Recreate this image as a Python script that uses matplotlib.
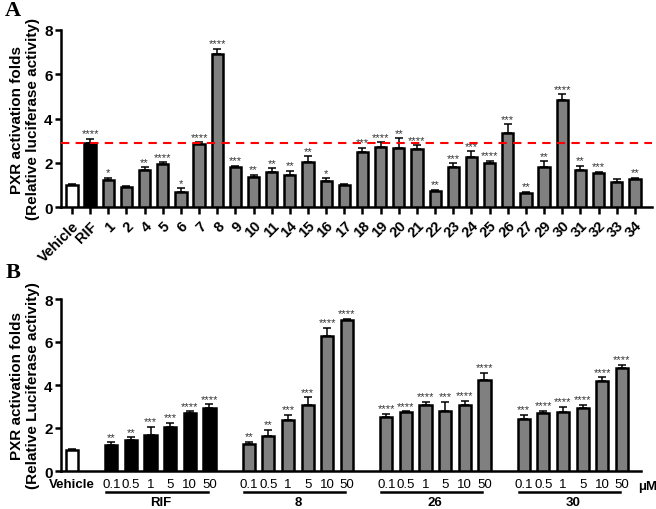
import matplotlib
matplotlib.use("Agg")
import matplotlib.pyplot as plt
import matplotlib.transforms as mtransforms
import numpy as np

plt.rcParams['font.family'] = ['Liberation Sans', 'DejaVu Sans']

# ---------------- Panel A data ----------------
a_labels = ["Vehicle", "RIF", "1", "2", "4", "5", "6", "7", "8", "9", "10", "11", "14", "15", "16",
            "17", "18", "19", "20", "21", "22", "23", "24", "25", "26", "27", "29", "30", "31", "32", "33", "34"]
a_values = [0.98, 2.89, 1.20, 0.92, 1.67, 1.93, 0.68, 2.85, 6.93, 1.79, 1.37, 1.60, 1.46, 2.02, 1.19,
            0.98, 2.47, 2.71, 2.68, 2.64, 0.71, 1.79, 2.26, 1.99, 3.36, 0.62, 1.82, 4.85, 1.67, 1.55, 1.11, 1.28]
a_errors = [0.08, 0.20, 0.10, 0.05, 0.12, 0.09, 0.16, 0.07, 0.22, 0.07, 0.09, 0.15, 0.16, 0.27, 0.10,
            0.07, 0.20, 0.21, 0.42, 0.15, 0.08, 0.18, 0.26, 0.09, 0.38, 0.07, 0.24, 0.24, 0.18, 0.05, 0.15, 0.05]
a_stars = ["", "****", "*", "", "**", "****", "*", "****", "****", "***", "**", "**", "**", "**", "*",
           "", "***", "****", "**", "****", "**", "***", "***", "****", "***", "**", "**", "****", "**", "***", "", "**"]
a_threshold = 2.9

# ---------------- Panel B data ----------------
b_doses = ["0.1", "0.5", "1", "5", "10", "50"]
b_groups = ["RIF", "8", "26", "30"]
b_vehicle = 0.97
b_vehicle_err = 0.05
b_values = {
    "RIF": [1.23, 1.43, 1.69, 2.05, 2.69, 2.95],
    "8":   [1.26, 1.63, 2.38, 3.05, 6.26, 7.03],
    "26":  [2.52, 2.74, 3.08, 2.80, 3.09, 4.23],
    "30":  [2.42, 2.69, 2.75, 2.92, 4.18, 4.77],
}
b_errors = {
    "RIF": [0.10, 0.14, 0.35, 0.20, 0.08, 0.15],
    "8":   [0.09, 0.28, 0.23, 0.38, 0.40, 0.06],
    "26":  [0.15, 0.03, 0.15, 0.40, 0.18, 0.35],
    "30":  [0.18, 0.12, 0.22, 0.15, 0.17, 0.15],
}
b_stars = {
    "RIF": ["**", "**", "***", "***", "****", "****"],
    "8":   ["**", "**", "***", "***", "****", "****"],
    "26":  ["****", "****", "****", "***", "****", "****"],
    "30":  ["***", "****", "****", "****", "****", "****"],
}

GRAY = "#808080"
STAR_C = "#333333"
W, H = 656, 510
fig = plt.figure(figsize=(W / 100, H / 100), dpi=100)

def px_axes(l, r, t, b):
    return fig.add_axes([l / W, 1 - b / H, (r - l) / W, (b - t) / H])

def style_axes(ax):
    for s in ["top", "right"]:
        ax.spines[s].set_visible(False)
    for s in ["left", "bottom"]:
        ax.spines[s].set_linewidth(1.8)
    ax.set_ylim(0, 8)
    ax.set_yticks([0, 2, 4, 6, 8])
    ax.tick_params(axis="y", direction="out", length=4, width=1.8, pad=2, labelsize=11)
    for lab in ax.get_yticklabels():
        lab.set_fontweight("bold")

def draw_bars(ax, xs, vals, errs, stars, colors):
    ax.bar(xs, vals, width=0.62, color=colors, edgecolor="black", linewidth=1.8, zorder=3)
    ax.errorbar(xs, vals, yerr=[np.zeros(len(vals)), errs], fmt="none", ecolor="black",
                elinewidth=1.1, capsize=2.6, capthick=1.1, zorder=4)
    for x, v, e, s in zip(xs, vals, errs, stars):
        if s:
            ax.text(x, v + e + 0.03, s, ha="center", va="bottom", fontsize=8, color=STAR_C)

# ---------------- Panel A ----------------
axA = px_axes(61, 652, 31, 208)
style_axes(axA)
xa = np.arange(len(a_labels))
colorsA = ["white", "black"] + [GRAY] * (len(a_labels) - 2)
draw_bars(axA, xa, a_values, a_errors, a_stars, colorsA)
axA.axhline(a_threshold, color="#ff0000", linestyle=(0, (4, 3)), linewidth=1.5, zorder=5)
axA.set_xlim(-0.6, 31.94)
axA.set_xticks(xa)
axA.set_xticklabels(a_labels, rotation=45, ha="right", va="top", rotation_mode="anchor",
                    fontsize=10.5, fontweight="bold")
axA.tick_params(axis="x", direction="out", length=5, width=1.8, pad=3)
axA.set_ylabel("PXR activation folds\n(Relative luciferase activity)", fontsize=11,
               fontweight="bold", labelpad=3)
fig.text(13 / W, 1 - 11 / H, "A", family=["Liberation Serif", "DejaVu Serif"], fontsize=16,
         fontweight="bold", ha="center", va="center")

# ---------------- Panel B ----------------
axB = px_axes(61, 641, 300, 472)
style_axes(axB)
positions = [0]
colorsB = ["white"]
valsB = [b_vehicle]
errsB = [b_vehicle_err]
starsB = [""]
ticklabels = ["Vehicle"]
group_pos = {}
start = 2
for g in b_groups:
    ps = list(range(start, start + len(b_doses)))
    group_pos[g] = ps
    positions += ps
    colorsB += ["black" if g == "RIF" else GRAY] * len(b_doses)
    valsB += b_values[g]
    errsB += b_errors[g]
    starsB += b_stars[g]
    ticklabels += b_doses
    start += len(b_doses) + 1

draw_bars(axB, positions, valsB, errsB, starsB, colorsB)
axB.set_xlim(-0.56, 28.97)
axB.set_xticks(positions)
axB.set_xticklabels(ticklabels, fontsize=9.5)
axB.get_xticklabels()[0].set_fontweight("bold")
axB.tick_params(axis="x", length=0, pad=5)
axB.set_ylabel("PXR activation folds\n(Relative Luciferase activity)", fontsize=11,
               fontweight="bold", labelpad=3)

trans = mtransforms.blended_transform_factory(axB.transData, axB.transAxes)
for g in b_groups:
    ps = group_pos[g]
    axB.plot([ps[0] - 0.25, ps[-1] - 0.1], [-0.122, -0.122], color="black", linewidth=1.8,
             transform=trans, clip_on=False)
    axB.text((ps[0] + ps[-1]) / 2, -0.178, g, transform=trans, ha="center", va="center",
             fontsize=9.5, fontweight="bold")
fig.text(648 / W, 1 - 487 / H, "μM", fontsize=9.5, fontweight="bold", ha="center", va="center")
fig.text(13 / W, 1 - 273 / H, "B", family=["Liberation Serif", "DejaVu Serif"], fontsize=16,
         fontweight="bold", ha="center", va="center")

fig.savefig("out.png", dpi=100)
